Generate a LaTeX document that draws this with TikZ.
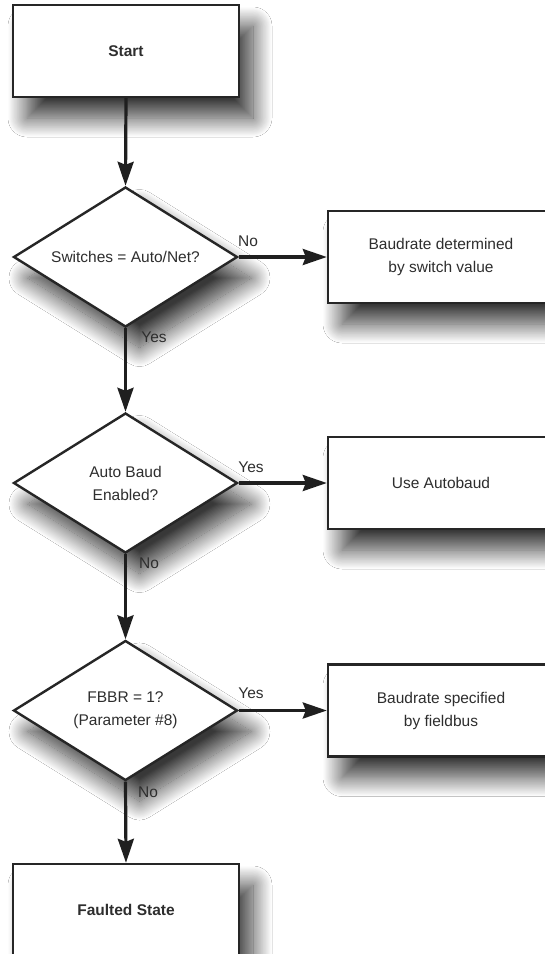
\documentclass[tikz,border=0pt]{standalone}
\usepackage{fontspec}
\setmainfont{Liberation Sans}
\usetikzlibrary{shapes.geometric,arrows.meta,shadows.blur}
\begin{document}
\begin{tikzpicture}[x=1pt,y=-1pt,
  txt/.style={font=\fontsize{15.5}{23}\selectfont, text=black!82},
  softshadow/.style={blur shadow={shadow xshift=14pt, shadow yshift=-21pt,
      shadow blur radius=19pt, shadow blur steps=28, shadow opacity=78}},
  proc/.style={txt, draw=black!85, line width=2.4pt, fill=white,
      minimum width=226pt, minimum height=92pt, inner sep=0pt,
      align=center, softshadow},
  decision/.style={txt, diamond, draw=black!85, line width=2.4pt, fill=white,
      minimum width=224pt, minimum height=140pt, aspect=1.6, inner sep=0pt,
      align=center, softshadow},
  flow/.style={draw=black!88, line width=3.2pt,
      -{Stealth[length=24pt,width=16pt,inset=3pt]}},
  lbl/.style={txt, inner sep=0pt}
]
\useasboundingbox (0,0) rectangle (545,954);
\clip (0,0) rectangle (545,954);
\fill[white] (0,0) rectangle (545,954);

% main column
\node[proc] (start) at (126,51) {\textbf{Start}};
\node[decision] (d1) at (125.5,257) {Switches = Auto/Net?};
\node[decision] (d2) at (125.5,483) {Auto Baud\\Enabled?};
\node[decision] (d3) at (125.5,710.5) {FBBR = 1?\\(Parameter \#8)};
\node[proc] (fault) at (126,910) {\textbf{Faulted State}};

% side outcomes
\node[proc] (b1) at (441,257) {Baudrate determined\\by switch value};
\node[proc] (b2) at (441,483) {Use Autobaud};
\node[proc] (b3) at (441,710.5) {Baudrate specified\\by fieldbus};

% connectors
\draw[flow] (start.south) -- (d1.north);
\draw[flow] (d1.south) -- (d2.north);
\draw[flow] (d2.south) -- (d3.north);
\draw[flow] (d3.south) -- (fault.north);
\draw[flow] (d1.east) -- (b1.west);
\draw[flow] (d2.east) -- (b2.west);
\draw[flow] (d3.east) -- (b3.west);

% branch labels
\node[lbl] (l1no)  at (248,241) {No};
\node[lbl] (l1yes) at (154,337) {Yes};
\node[lbl] (l2yes) at (251,467) {Yes};
\node[lbl] (l2no)  at (149,563) {No};
\node[lbl] (l3yes) at (251,693) {Yes};
\node[lbl] (l3no)  at (148,792) {No};
\end{tikzpicture}
\end{document}
